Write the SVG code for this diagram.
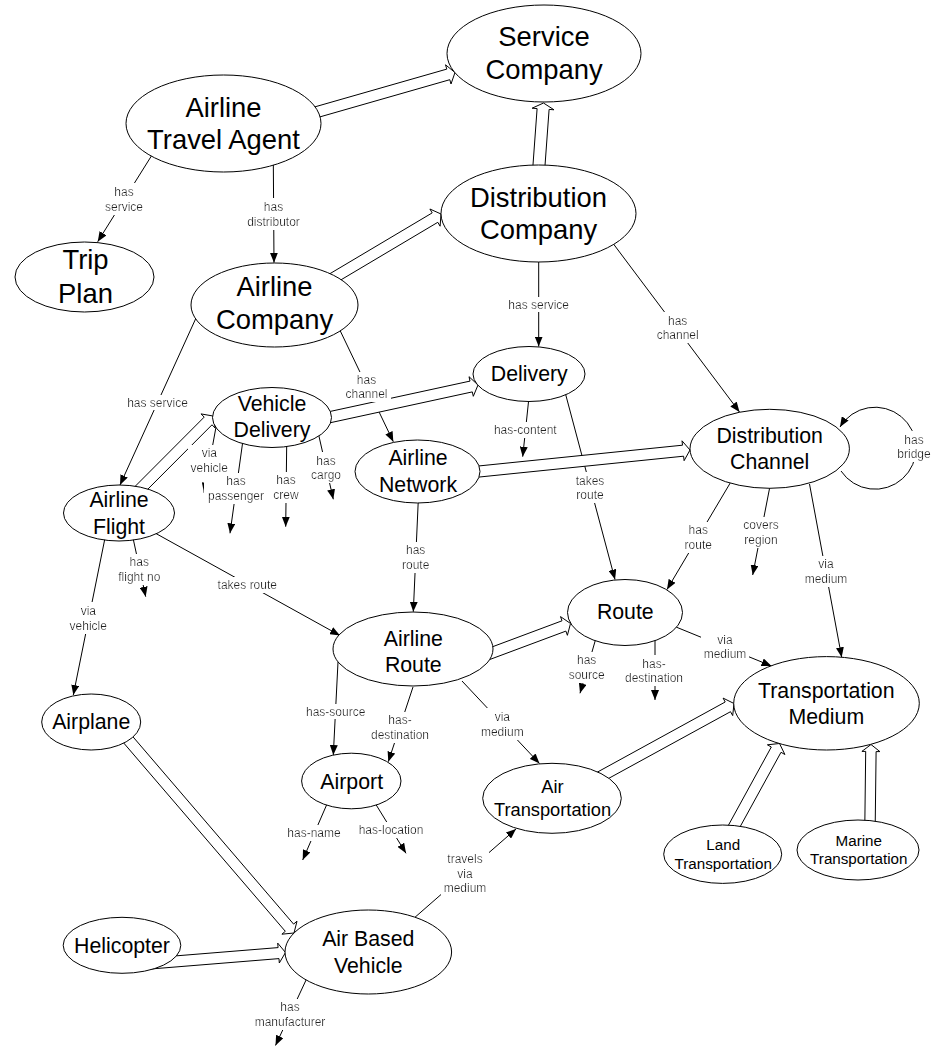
<svg xmlns="http://www.w3.org/2000/svg" width="932" height="1047" viewBox="0 0 932 1047">
  <style>
    .node ellipse { fill: #fff; stroke: #000; stroke-width: 1; }
    .node text { font-family: "Liberation Sans", Arial, sans-serif; text-anchor: middle; fill: #000; }
    .xl { font-size: 27.4px; }
    .md { font-size: 21.3px; }
    .sm { font-size: 18.3px; }
    .xs { font-size: 15.2px; }
    .edge { fill: none; stroke: #000; stroke-width: 1; marker-end: url(#arr); }
    .isa { fill: #fff; stroke: #000; stroke-width: 1; stroke-linejoin: miter; }
    .lbl { font-family: "Liberation Sans", Arial, sans-serif; font-size: 12px; text-anchor: middle; fill: #222; filter: url(#bg); }
  </style>
  <defs>
    <marker id="arr" markerWidth="10" markerHeight="8" refX="10" refY="4" orient="auto" markerUnits="userSpaceOnUse">
      <path d="M0,0 L10,4 L0,8 z" fill="#000"/>
    </marker>
    <!-- white box behind edge labels -->
    <filter id="bg" x="-0.06" y="-0.02" width="1.12" height="1.04">
      <feFlood flood-color="#fff"/>
      <feComposite in="SourceGraphic"/>
    </filter>
  </defs>
  <rect width="932" height="1047" fill="#fff"/>

  <g id="connectors">
    <!-- relations -->
    <path class="edge" d="M152,155 L97.7,241.7"/>
    <path class="edge" d="M273.3,160 L274,262.7"/>
    <path class="edge" d="M196,318 L120,485"/>
    <path class="edge" d="M336,322 L393.3,441.7"/>
    <path class="edge" d="M538.7,258 L538.7,346.5"/>
    <path class="edge" d="M612,242 L739.5,412"/>
    <path class="edge" d="M841,471 A41,41 0 1 0 840,427"/>
    <path class="edge" d="M565,392 L615,579.5"/>
    <path class="edge" d="M528.9,398 L522.7,456.7"/>
    <path class="edge" d="M732,480 L667,589.5"/>
    <path class="edge" d="M770,486 L752.7,575"/>
    <path class="edge" d="M809.5,484 L841.7,657.3"/>
    <path class="edge" d="M676,627 L771.5,666"/>
    <path class="edge" d="M596,638 L580,693.3"/>
    <path class="edge" d="M655,640 L655,700"/>
    <path class="edge" d="M418.3,500 L413.3,611.7"/>
    <path class="edge" d="M155,533 L340,635.5"/>
    <path class="edge" d="M105,538 L73.3,695"/>
    <path class="edge" d="M133,538 L145.7,596.7"/>
    <path class="edge" d="M216,427 L204,492.7"/>
    <path class="edge" d="M243,440 L230,533.3"/>
    <path class="edge" d="M286.7,445 L285.7,526.7"/>
    <path class="edge" d="M318,432 L333.3,499.3"/>
    <path class="edge" d="M338,662 L333.3,755"/>
    <path class="edge" d="M413,687 L388.3,761.7"/>
    <path class="edge" d="M462,681 L539.5,763.5"/>
    <path class="edge" d="M327,804 L302.7,860"/>
    <path class="edge" d="M375,803 L406,853.3"/>
    <path class="edge" d="M413,919 L516,829"/>
    <path class="edge" d="M307,978 L275.5,1045.5"/>

    <!-- subclass (hollow block arrows) -->
    <path class="isa" d="M308.5,108.7 L446.8,69.1 L445.5,64.8 L455,72.5 L451,84 L449.8,79.7 L311.5,119.3"/>
    <path class="isa" d="M532.5,171.6 L537.1,108.6 L532.1,108.2 L543.5,103 L554,109.8 L549.1,109.4 L544.5,172.4"/>
    <path class="isa" d="M327.2,275.3 L432.2,212.9 L429.9,209 L441,214 L440.1,226.2 L437.8,222.3 L332.8,284.7"/>
    <path class="isa" d="M324.8,412.6 L470,381.1 L469,376.7 L478,385 L473.3,396.3 L472.3,391.9 L327.2,423.4"/>
    <path class="isa" d="M473.4,466.5 L682.5,445.2 L682,440.8 L690,450 L684.1,460.7 L683.6,456.2 L474.6,477.5"/>
    <path class="isa" d="M132.2,489.3 L204.2,417.1 L201,413.9 L213,416 L215.1,428 L212,424.8 L140,497"/>
    <path class="isa" d="M484.1,649.9 L562,620.8 L560.5,616.6 L570.5,623.5 L567.4,635.3 L565.9,631.1 L487.9,660.2"/>
    <path class="isa" d="M595.4,773.2 L725.2,702 L723.1,698.1 L734,703.5 L732.7,715.6 L730.5,711.7 L600.6,782.8"/>
    <path class="isa" d="M726.7,828.4 L771.3,747 L767.4,744.8 L779.5,743.5 L784.9,754.5 L781,752.3 L736.3,833.7"/>
    <path class="isa" d="M864.8,825.9 L865.7,751.4 L861.9,751.4 L871,744.5 L879.9,751.6 L876.1,751.6 L875.2,826.1"/>
    <path class="isa" d="M129.2,732.4 L293.6,924.1 L297,921.2 L294,933 L281.9,934.2 L285.3,931.3 L120.8,739.6"/>
    <path class="isa" d="M149.6,958 L278.1,947.6 L277.7,943.1 L285.5,952.5 L279.3,963 L279,958.6 L150.5,969"/>

    <!-- relation labels -->
    <text class="lbl"><tspan x="124" y="195.5">has</tspan><tspan x="124" y="210.5">service</tspan></text>
    <text class="lbl"><tspan x="273.5" y="210.5">has</tspan><tspan x="273.5" y="225.5">distributor</tspan></text>
    <text class="lbl" x="157.5" y="406.5">has service</text>
    <text class="lbl"><tspan x="366.5" y="384">has</tspan><tspan x="366.5" y="398">channel</tspan></text>
    <text class="lbl" x="538.7" y="308.5">has service</text>
    <text class="lbl"><tspan x="677.7" y="324.5">has</tspan><tspan x="677.7" y="339">channel</tspan></text>
    <text class="lbl"><tspan x="914" y="443.5">has</tspan><tspan x="914" y="458">bridge</tspan></text>
    <text class="lbl"><tspan x="590" y="484.5">takes</tspan><tspan x="590" y="499">route</tspan></text>
    <text class="lbl" x="525.3" y="434">has-content</text>
    <text class="lbl"><tspan x="698.3" y="534">has</tspan><tspan x="698.3" y="549">route</tspan></text>
    <text class="lbl"><tspan x="761" y="529">covers</tspan><tspan x="761" y="544">region</tspan></text>
    <text class="lbl"><tspan x="826" y="568">via</tspan><tspan x="826" y="583">medium</tspan></text>
    <text class="lbl"><tspan x="725" y="643.5">via</tspan><tspan x="725" y="658">medium</tspan></text>
    <text class="lbl"><tspan x="586.7" y="664">has</tspan><tspan x="586.7" y="679">source</tspan></text>
    <text class="lbl"><tspan x="654" y="667.5">has-</tspan><tspan x="654" y="682">destination</tspan></text>
    <text class="lbl"><tspan x="415.7" y="554">has</tspan><tspan x="415.7" y="569">route</tspan></text>
    <text class="lbl" x="247.3" y="589">takes route</text>
    <text class="lbl"><tspan x="88.3" y="614.5">via</tspan><tspan x="88.3" y="629.5">vehicle</tspan></text>
    <text class="lbl"><tspan x="139.3" y="566">has</tspan><tspan x="139.3" y="580.5">flight no</tspan></text>
    <text class="lbl"><tspan x="209.3" y="457">via</tspan><tspan x="209.3" y="471.5">vehicle</tspan></text>
    <text class="lbl"><tspan x="236" y="485">has</tspan><tspan x="236" y="500">passenger</tspan></text>
    <text class="lbl"><tspan x="286" y="484">has</tspan><tspan x="286" y="499">crew</tspan></text>
    <text class="lbl"><tspan x="326" y="464.5">has</tspan><tspan x="326" y="479">cargo</tspan></text>
    <text class="lbl" x="335.7" y="715.5">has-source</text>
    <text class="lbl"><tspan x="400" y="724">has-</tspan><tspan x="400" y="738.5">destination</tspan></text>
    <text class="lbl"><tspan x="502.3" y="720.5">via</tspan><tspan x="502.3" y="735.5">medium</tspan></text>
    <text class="lbl" x="314" y="837">has-name</text>
    <text class="lbl" x="391" y="834">has-location</text>
    <text class="lbl"><tspan x="465" y="863">travels</tspan><tspan x="465" y="877.5">via</tspan><tspan x="465" y="892">medium</tspan></text>
    <text class="lbl"><tspan x="290" y="1011">has</tspan><tspan x="290" y="1026">manufacturer</tspan></text>
  </g>

  <g id="service-company" class="node"><ellipse cx="544" cy="53.5" rx="97" ry="48.5"/><text class="xl"><tspan x="544" y="46">Service</tspan><tspan x="544" y="78.5">Company</tspan></text></g>
  <g id="airline-travel-agent" class="node"><ellipse cx="223.5" cy="123.5" rx="97.5" ry="48.5"/><text class="xl"><tspan x="223.5" y="117">Airline</tspan><tspan x="223.5" y="149">Travel Agent</tspan></text></g>
  <g id="distribution-company" class="node"><ellipse cx="538.5" cy="213.5" rx="97.5" ry="48.5"/><text class="xl"><tspan x="538.5" y="207">Distribution</tspan><tspan x="538.5" y="239">Company</tspan></text></g>
  <g id="trip-plan" class="node"><ellipse cx="84.5" cy="277" rx="69.5" ry="35"/><text class="xl"><tspan x="85.5" y="269">Trip</tspan><tspan x="85.5" y="303">Plan</tspan></text></g>
  <g id="airline-company" class="node"><ellipse cx="274.5" cy="305" rx="83.5" ry="42"/><text class="xl"><tspan x="274.5" y="296">Airline</tspan><tspan x="274.5" y="329">Company</tspan></text></g>
  <g id="delivery" class="node"><ellipse cx="529" cy="374" rx="56" ry="27.5"/><text class="md" x="529.3" y="381.3">Delivery</text></g>
  <g id="vehicle-delivery" class="node"><ellipse cx="272" cy="417.5" rx="59.5" ry="30"/><text class="md"><tspan x="272" y="411.3">Vehicle</tspan><tspan x="272" y="437">Delivery</tspan></text></g>
  <g id="distribution-channel" class="node"><ellipse cx="769.7" cy="448.8" rx="79.7" ry="39.5"/><text class="md"><tspan x="769.7" y="442.6">Distribution</tspan><tspan x="769.7" y="468.6">Channel</tspan></text></g>
  <g id="airline-network" class="node"><ellipse cx="417.5" cy="471.5" rx="62.5" ry="31.5"/><text class="md"><tspan x="418" y="465.3">Airline</tspan><tspan x="418" y="492">Network</tspan></text></g>
  <g id="airline-flight" class="node"><ellipse cx="119" cy="513" rx="55.5" ry="28"/><text class="md"><tspan x="119" y="507">Airline</tspan><tspan x="119" y="533.5">Flight</tspan></text></g>
  <g id="route" class="node"><ellipse cx="625" cy="612.5" rx="57.5" ry="33"/><text class="md" x="625.3" y="618.6">Route</text></g>
  <g id="airline-route" class="node"><ellipse cx="413" cy="649" rx="80" ry="37"/><text class="md"><tspan x="413.3" y="646">Airline</tspan><tspan x="413.3" y="672">Route</tspan></text></g>
  <g id="transportation-medium" class="node"><ellipse cx="826.5" cy="703.3" rx="92.8" ry="46.7"/><text class="md"><tspan x="826.3" y="697.8">Transportation</tspan><tspan x="826.3" y="723.6">Medium</tspan></text></g>
  <g id="airplane" class="node"><ellipse cx="91.2" cy="722" rx="49.5" ry="28"/><text class="md" x="91.2" y="729.3">Airplane</text></g>
  <g id="airport" class="node"><ellipse cx="351.3" cy="781" rx="49.7" ry="27.8"/><text class="md" x="351.7" y="788.6">Airport</text></g>
  <g id="air-transportation" class="node"><ellipse cx="552" cy="798.3" rx="69.3" ry="35"/><text class="sm"><tspan x="552.5" y="793.1">Air</tspan><tspan x="552.5" y="815.8">Transportation</tspan></text></g>
  <g id="land-transportation" class="node"><ellipse cx="722.7" cy="854.2" rx="59" ry="29.2"/><text class="xs"><tspan x="723.2" y="850.2">Land</tspan><tspan x="723.2" y="869.2">Transportation</tspan></text></g>
  <g id="marine-transportation" class="node"><ellipse cx="858" cy="850" rx="61" ry="30"/><text class="xs"><tspan x="858.8" y="845.9">Marine</tspan><tspan x="858.8" y="864.2">Transportation</tspan></text></g>
  <g id="helicopter" class="node"><ellipse cx="122" cy="945.3" rx="58.8" ry="28"/><text class="md" x="122" y="952.6">Helicopter</text></g>
  <g id="air-based-vehicle" class="node"><ellipse cx="368.3" cy="952" rx="83.3" ry="42"/><text class="md"><tspan x="368.3" y="946">Air Based</tspan><tspan x="368.3" y="972.6">Vehicle</tspan></text></g>
</svg>
